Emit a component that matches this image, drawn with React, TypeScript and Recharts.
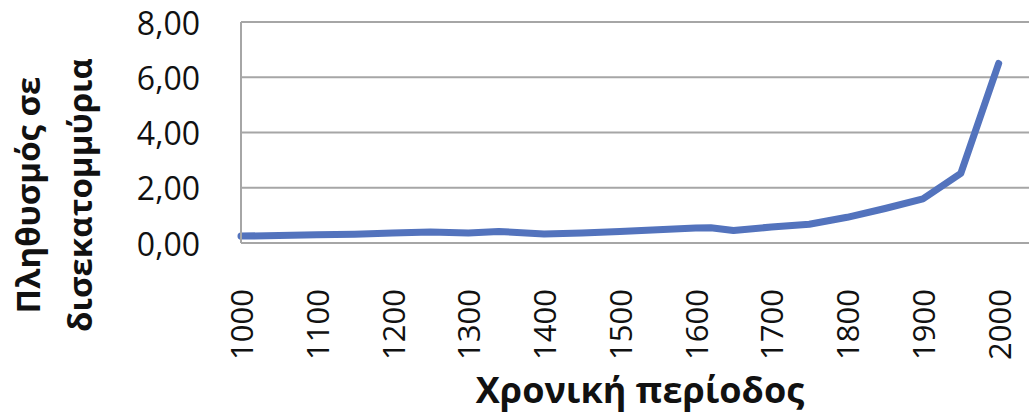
import { LineChart, Line, XAxis, YAxis, CartesianGrid } from 'recharts'

const YEARS = [1000, 1050, 1100, 1150, 1200, 1250, 1300, 1340, 1400, 1450, 1500, 1550, 1600, 1620, 1650, 1700, 1750, 1800, 1850, 1900, 1950, 2000]
const POPULATION = [0.25, 0.27, 0.3, 0.32, 0.36, 0.4, 0.36, 0.42, 0.33, 0.36, 0.42, 0.48, 0.54, 0.55, 0.45, 0.58, 0.68, 0.93, 1.25, 1.6, 2.52, 6.5]
const X_TICKS = [1000, 1100, 1200, 1300, 1400, 1500, 1600, 1700, 1800, 1900, 2000]
const Y_TICKS = [0, 2, 4, 6, 8]
const X_TITLE = 'Χρονική περίοδος'
const Y_TITLE = ['Πληθυσμός σε', 'δισεκατομμύρια']

const data = YEARS.map((year, i) => ({ year, value: POPULATION[i] }))

const FONT = '"Open Sans", sans-serif'
const GRID = '#A6A6A6'

const formatValue = (v: number) => v.toFixed(2).replace('.', ',')

function YTick({ x, y, payload }: any) {
    return (
        <text x={x - 33} y={y} textAnchor="end" dominantBaseline="central" fontFamily={FONT} fontSize={32} fill="#111">
            {formatValue(payload.value)}
        </text>
    )
}

function XTick({ x, y, payload }: any) {
    const ty = y + 38
    return (
        <text
            x={x}
            y={ty}
            transform={`rotate(-90, ${x}, ${ty})`}
            textAnchor="end"
            dominantBaseline="central"
            fontFamily={FONT}
            fontSize={31}
            fill="#111"
        >
            {payload.value}
        </text>
    )
}

export default function App() {
    return (
        <div style={{ position: 'absolute', left: 0, top: 0, width: 1029, height: 413, background: '#fff' }}>
            <LineChart width={1029} height={413} data={data} margin={{ top: 22, right: 0, bottom: 0, left: 0 }}>
                <CartesianGrid vertical={false} stroke={GRID} strokeWidth={2} />
                <XAxis
                    dataKey="year"
                    type="number"
                    domain={[1000, 2040]}
                    ticks={X_TICKS}
                    height={170}
                    tick={<XTick />}
                    tickLine={false}
                    axisLine={{ stroke: GRID, strokeWidth: 2 }}
                    interval={0}
                />
                <YAxis
                    domain={[0, 8]}
                    ticks={Y_TICKS}
                    width={241}
                    tick={<YTick />}
                    tickLine={false}
                    axisLine={{ stroke: GRID, strokeWidth: 2 }}
                    interval={0}
                />
                <Line
                    type="linear"
                    dataKey="value"
                    stroke="#5373BD"
                    strokeWidth={7}
                    strokeLinejoin="round"
                    strokeLinecap="round"
                    dot={false}
                    isAnimationActive={false}
                />
            </LineChart>
            <svg width={1029} height={413} style={{ position: 'absolute', left: 0, top: 0, pointerEvents: 'none' }}>
                <text x={640} y={389} textAnchor="middle" dominantBaseline="central" fontFamily={FONT} fontWeight={700} fontSize={36} fill="#111">
                    {X_TITLE}
                </text>
                <text
                    transform="translate(30, 195) rotate(-90)"
                    textAnchor="middle"
                    dominantBaseline="central"
                    fontFamily={FONT}
                    fontWeight={700}
                    fontSize={33}
                    fill="#111"
                >
                    <tspan x={0} dy={-3}>{Y_TITLE[0]}</tspan>
                    <tspan x={0} dy={52}>{Y_TITLE[1]}</tspan>
                </text>
            </svg>
        </div>
    )
}
